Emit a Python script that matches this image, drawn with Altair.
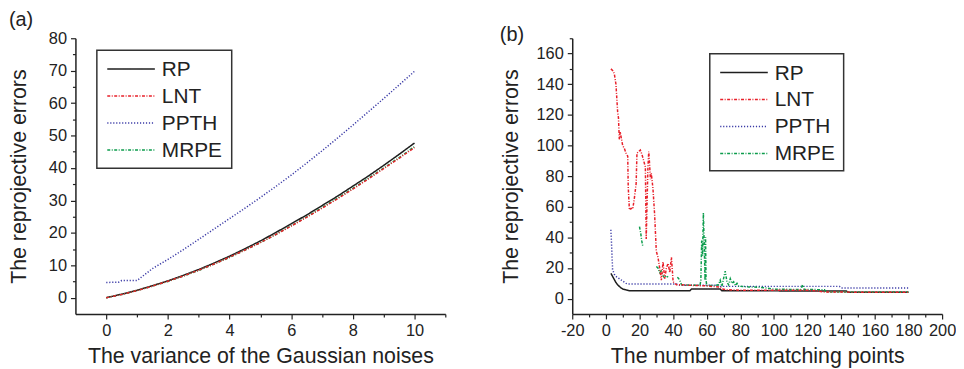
import altair as alt
import pandas as pd

SERIES = ["RP", "LNT", "PPTH", "MRPE"]
COLORS = ["#1e1e1e", "#e8202a", "#3a3aa6", "#0c9c4c"]
DASHES = [[1, 0], [3, 1.5, 1, 1.5], [1.2, 1.8], [3, 1.5, 1, 1.5]]
WIDTHS = [1.5, 1.5, 1.3, 1.3]
DRAW_ORDER = ["RP", "PPTH", "MRPE", "LNT"]

PANEL_LABELS = ["(a)", "(b)"]

# ---------------- panel (a) ----------------
a_title_x = "The variance of the Gaussian noises"
a_title_y = "The reprojective errors"
a_x = [0, 0.5, 1, 1.5, 2, 2.5, 3, 3.5, 4, 4.5, 5, 5.5, 6, 6.5, 7, 7.5, 8, 8.5, 9, 9.5, 10]
a_rp = [0, 1.1, 2.3, 3.7, 5.2, 6.9, 8.7, 10.7, 12.8, 15.1, 17.5, 20.1, 22.8, 25.5, 28.4, 31.3, 34.4, 37.5, 40.8, 44.2, 47.7]
a_lnt = [0, 1.0, 2.2, 3.6, 5.1, 6.7, 8.5, 10.4, 12.5, 14.7, 17.0, 19.5, 22.1, 24.8, 27.6, 30.5, 33.5, 36.6, 39.8, 43.0, 46.3]
a_mrpe = [0, 1.0, 2.2, 3.6, 5.0, 6.7, 8.4, 10.4, 12.4, 14.7, 17.0, 19.5, 22.2, 24.9, 27.8, 30.7, 33.7, 36.8, 40.0, 43.2, 46.6]
a_ppth_x = [0, 0.4, 0.5, 1, 1.5, 2, 2.5, 3, 3.5, 4, 4.5, 5, 5.5, 6, 6.5, 7, 7.5, 8, 8.5, 9, 9.5, 10]
a_ppth = [4.7, 4.8, 5.3, 5.3, 9.0, 11.8, 14.8, 18.0, 21.2, 24.4, 27.6, 30.9, 34.3, 37.8, 41.5, 45.3, 49.2, 53.2, 57.3, 61.4, 65.6, 69.8]

# ---------------- panel (b) ----------------
b_title_x = "The number of matching points"
b_title_y = "The reprojective errors"
b_rp_x = [3, 4, 5, 6, 7, 8, 9, 10, 12, 14, 50, 51, 68, 69, 143, 144, 180]
b_rp = [16.5, 14.5, 12.5, 10.5, 9.0, 8.0, 7.0, 6.3, 5.7, 5.2, 5.2, 6.3, 6.3, 5.1, 5.0, 4.2, 4.2]
b_ppth_x = [3, 3.4, 4, 5, 6, 8, 10, 12, 13, 43, 44, 67, 68, 139, 140, 180]
b_ppth = [45, 35, 19, 16, 14.5, 13, 11.5, 10, 9.5, 9.5, 8.8, 8.7, 8.0, 8.0, 7.0, 7.0]
b_lnt_x = [3, 4, 5, 6, 7, 7.5, 8, 8.5, 9, 10, 11, 12, 13, 13.3, 14, 15, 16, 17, 18, 18.5,
           19.5, 20.5, 21.5, 22.5, 23.5, 24, 24.5, 25, 25.5, 26, 26.5, 27, 28, 29, 30,
           31, 32, 33, 34, 35, 36, 37, 38, 39, 40, 41, 42, 45, 50, 55, 60, 65, 68, 69,
           72, 80, 100, 120, 125, 130, 180]
b_lnt = [150, 149, 147, 140, 122, 118, 104, 109, 106, 100, 98, 95, 93, 73, 58, 59, 58.5, 66, 75, 95,
         96, 97, 94, 90, 86, 39, 62, 85, 96, 88, 78, 82, 72, 55, 31,
         27, 20, 12, 24, 13, 20, 23, 17, 27, 11, 10, 9, 9, 8.7, 8.5, 8.3, 7.8, 7.5, 6.3,
         5.8, 5.5, 5.4, 5.4, 5.2, 4.3, 4.1]
b_mrpe_x = [20, 20.7, 21.3, 22, 23,
            30, 31, 32, 33, 34, 35, 36, 37, 39,
            42.5, 43, 44, 45, 50, 56, 56.5, 57, 57.5, 58, 58.5, 59, 59.3, 59.6, 60, 64,
            67, 68, 69, 70, 71, 72, 73, 74, 75, 76, 77, 78, 79, 80, 85, 90, 95, 100,
            110, 116, 117, 118, 130, 131, 180]
b_mrpe = [47, 43, 38, 34, None,
          21, 20, 17, 18, 15, 13.5, 15, 14, None,
          14, 13.5, 12, 9, 8.8, 8.7, 12, 38, 28, 56, 35, 12, 40, 12, 8.5, 8.5,
          9, 12, 8, 13, 18, 11, 9, 13, 10, 11, 8.5, 10, 8, 8, 7.6, 7.5, 7, 6.2,
          6, 6, 9, 6, 5.8, 4.3, 4.3]


def long_df(parts):
    rows = []
    for name, xs, ys in parts:
        for x, y in zip(xs, ys):
            rows.append({"x": x, "y": y, "s": name, "o": DRAW_ORDER.index(name)})
    df = pd.DataFrame(rows)
    return df.sort_values("o", kind="stable")


df_a = long_df([("RP", a_x, a_rp), ("LNT", a_x, a_lnt), ("PPTH", a_ppth_x, a_ppth), ("MRPE", a_x, a_mrpe)])
df_b = long_df([("RP", b_rp_x, b_rp), ("LNT", b_lnt_x, b_lnt), ("PPTH", b_ppth_x, b_ppth), ("MRPE", b_mrpe_x, b_mrpe)])

FONT = "Liberation Sans"
INK = "#222222"
W, H = 373, 278


def axis(title, values, major_test, pad_title):
    return alt.Axis(
        title=title,
        values=values,
        labelExpr=f"({major_test}) ? replace(datum.label, '\u2212', '-') : ''",
        tickSize={"condition": {"test": major_test, "value": 5}, "value": 3},
        grid=False,
        domainColor=INK, domainWidth=1.5,
        tickColor=INK, tickWidth=1.2,
        labelFont=FONT, labelFontSize=16.5, labelColor=INK, labelPadding=4,
        titleFont=FONT, titleFontSize=21.5, titleFontWeight="normal", titleColor=INK,
        titlePadding=pad_title,
        labelFlush=False, labelOverlap=False,
    )


def panel(df, xdom, ydom, xaxis, yaxis, lx, ly, lw, lh, label, label_x, label_y):
    cscale = alt.Scale(domain=SERIES, range=COLORS)
    dscale = alt.Scale(domain=SERIES, range=DASHES)
    wscale = alt.Scale(domain=SERIES, range=WIDTHS)
    lines = alt.Chart(df).mark_line(clip=True, invalid="break-paths-show-domains").encode(
        x=alt.X("x:Q", scale=alt.Scale(domain=xdom, nice=False, zero=False), axis=xaxis),
        y=alt.Y("y:Q", scale=alt.Scale(domain=ydom, nice=False, zero=False), axis=yaxis),
        color=alt.Color("s:N", scale=cscale, legend=None),
        strokeDash=alt.StrokeDash("s:N", scale=dscale, legend=None),
        strokeWidth=alt.StrokeWidth("s:N", scale=wscale, legend=None),
        order=alt.Order("o:Q"),
    )
    # hand-made legend box
    leg_df = pd.DataFrame({"s": SERIES, "i": list(range(len(SERIES)))})
    box = alt.Chart(pd.DataFrame({"k": [0]})).mark_rect(
        fill="white", stroke="#333333", strokeWidth=1.5
    ).encode(x=alt.value(lx), x2=alt.value(lx + lw), y=alt.value(ly), y2=alt.value(ly + lh))
    base = alt.Chart(leg_df).transform_calculate(py=f"{ly + 19} + 27.2 * datum.i")
    sym = base.mark_rule().encode(
        x=alt.value(lx + 10.5), x2=alt.value(lx + 58.5),
        y=alt.Y("py:Q", scale=None, axis=None),
        color=alt.Color("s:N", scale=cscale, legend=None),
        strokeDash=alt.StrokeDash("s:N", scale=dscale, legend=None),
        strokeWidth=alt.value(1.5),
    )
    lab = base.mark_text(
        font=FONT, fontSize=21, color=INK, align="left", baseline="middle", dy=1
    ).encode(text="s:N", x=alt.value(lx + 65.5), y=alt.Y("py:Q", scale=None, axis=None))
    txt = alt.Chart(pd.DataFrame({"t": [label]})).mark_text(
        font=FONT, fontSize=20, color=INK, align="left", baseline="alphabetic"
    ).encode(text="t:N", x=alt.value(label_x), y=alt.value(label_y))
    return alt.layer(lines, box, sym, lab, txt).properties(width=W, height=H)


left = panel(
    df_a, [-1, 11], [-5, 80],
    axis(a_title_x, list(range(0, 12)), "datum.value % 2 === 0", 6),
    axis(a_title_y, list(range(0, 81, 5)), "datum.value % 10 === 0", 18),
    21.6, 12, 136, 119, PANEL_LABELS[0], -67, -12.5,
)
right = panel(
    df_b, [-20, 200], [-10, 170],
    axis(b_title_x, list(range(-20, 201, 10)), "datum.value % 20 === 0", 6),
    axis(b_title_y, list(range(0, 171, 10)), "datum.value % 20 === 0", 14),
    138.7, 15.6, 135, 118, PANEL_LABELS[1], -73, 3,
)

chart = alt.hconcat(left, right, spacing=128, bounds="flush").resolve_scale(
    color="independent", strokeDash="independent", strokeWidth="independent"
).properties(
    padding={"left": 0, "top": 0, "right": 0, "bottom": 0}
).configure_view(stroke=None)

chart.save("out.html", embed_options={"renderer": "svg", "actions": False})
